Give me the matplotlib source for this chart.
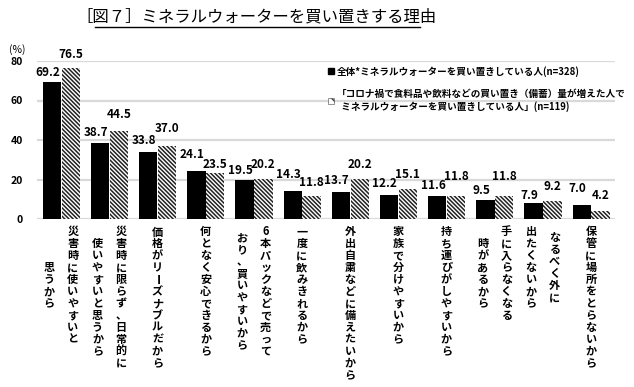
# -*- coding: utf-8 -*-
import matplotlib
matplotlib.use('Agg')
import matplotlib.pyplot as plt
from matplotlib.patches import Patch
from matplotlib.lines import Line2D

plt.rcParams['font.family'] = ['Noto Sans CJK JP', 'DejaVu Sans']
plt.rcParams['hatch.linewidth'] = 1.1

# category labels, one list entry per vertical column (right to left)
categories = [
    ['災害時に使いやすいと', '思うから'],
    ['災害時に限らず、日常的に', '使いやすいと思うから'],
    ['価格がリーズナブルだから'],
    ['何となく安心できるから'],
    ['6本パックなどで売って', 'おり、買いやすいから'],
    ['一度に飲みきれるから'],
    ['外出自粛などに備えたいから'],
    ['家族で分けやすいから'],
    ['持ち運びがしやすいから'],
    ['手に入らなくなる', '時があるから'],
    ['なるべく外に', '出たくないから'],
    ['保管に場所をとらないから'],
]
all_buyers = [69.2, 38.7, 33.8, 24.1, 19.5, 14.3, 13.7, 12.2, 11.6, 9.5, 7.9, 7.0]
covid_buyers = [76.5, 44.5, 37.0, 23.5, 20.2, 11.8, 20.2, 15.1, 11.8, 11.8, 9.2, 4.2]
legend_labels = [
    '全体*ミネラルウォーターを買い置きしている人(n=328)',
    '「コロナ禍で食料品や飲料などの買い置き（備蓄）量が増えた人で\n  ミネラルウォーターを買い置きしている人」(n=119)',
]
yticks = [0, 20, 40, 60, 80]

# how far each data label sits above its bar (points), as in the original
black_gap = [4.5, 4.5, 6, 10, 4.5, 9.5, 6, 6, 5, 4.5, 3, 9.5]
hatch_gap = [7, 9.5, 10, 3.5, 8, 7, 8, 8, 11, 11, 8, 8.5]

HATCH = '\\' * 8


def main():
    fig = plt.figure(figsize=(6.34, 3.87), dpi=100)
    ax = fig.add_axes([37 / 634, 1 - 219 / 387, 578 / 634, 158 / 387])

    x = list(range(len(categories)))
    w = 0.38
    x1 = [i - w / 2 for i in x]
    x2 = [i + w / 2 + 0.01 for i in x]
    ax.bar(x1, all_buyers, width=w, color='black', zorder=3)
    ax.bar(x2, covid_buyers, width=w, color='white', edgecolor='#222222',
           hatch=HATCH, linewidth=0, zorder=3)

    for xi, v, g in zip(x1, all_buyers, black_gap):
        ax.annotate(f'{v:.1f}', xy=(xi, v), xytext=(-3, g),
                    textcoords='offset points', ha='center', va='baseline',
                    fontsize=8.5, fontweight='bold', zorder=4)
    for xi, v, g in zip(x2, covid_buyers, hatch_gap):
        ax.annotate(f'{v:.1f}', xy=(xi, v), xytext=(0, g),
                    textcoords='offset points', ha='center', va='baseline',
                    fontsize=8.5, fontweight='bold', zorder=4)

    ax.set_xlim(-0.5, len(categories) - 0.5)
    ax.set_ylim(0, 80)
    ax.set_yticks(yticks)
    ax.set_yticklabels([str(t) for t in yticks], fontsize=7.5, fontweight='bold')
    ax.tick_params(axis='y', length=0, pad=10)
    ax.set_xticks([])
    for s in ax.spines.values():
        s.set_visible(False)
    ax.yaxis.grid(True, color='#d9d9d9', linewidth=1.6, zorder=0)
    ax.set_axisbelow(True)
    ax.text(-0.035, 1.04, '(%)', transform=ax.transAxes, ha='center', va='bottom',
            fontsize=7.5)

    # vertical category labels, characters stacked upright
    step = 8.6
    col_gap = 17
    for i, lines in enumerate(categories):
        n = len(lines)
        maxlen = max(len(s) for s in lines)
        for j, line in enumerate(lines):
            dx = ((n - 1) / 2 - j) * col_gap
            start = (maxlen - len(line)) / 2
            for k, ch in enumerate(line):
                dy = -(5 + (start + k + 0.5) * step)
                ax.annotate(ch, xy=(i, 0), xycoords=('data', 'axes fraction'),
                            xytext=(dx, dy), textcoords='offset points',
                            ha='center', va='center', fontsize=8,
                            fontweight='bold',
                            rotation=-90 if ch == 'ー' else 0,
                            annotation_clip=False)

    handles = [
        Patch(facecolor='black', edgecolor='black'),
        Patch(facecolor='white', edgecolor='#444444', hatch='\\\\\\', linewidth=0.4),
    ]
    ax.legend(handles, legend_labels, loc='upper left',
              bbox_to_anchor=(328 / 634, 1 - 66 / 387),
              bbox_transform=fig.transFigure, frameon=False,
              handlelength=0.6, handleheight=0.6, handletextpad=0.3,
              labelspacing=1.3, borderaxespad=0, borderpad=0,
              prop={'weight': 'bold', 'size': 6.9})

    fig.text(257 / 634, 1 - 17 / 387, '［図７］ミネラルウォーターを買い置きする理由',
             ha='center', va='center', fontsize=11.8)
    fig.add_artist(Line2D([95 / 634, 420 / 634], [1 - 27 / 387, 1 - 27 / 387],
                          transform=fig.transFigure, color='black', linewidth=1.0))

    fig.savefig('out.png', dpi=100)


if __name__ == "__main__":
    main()
